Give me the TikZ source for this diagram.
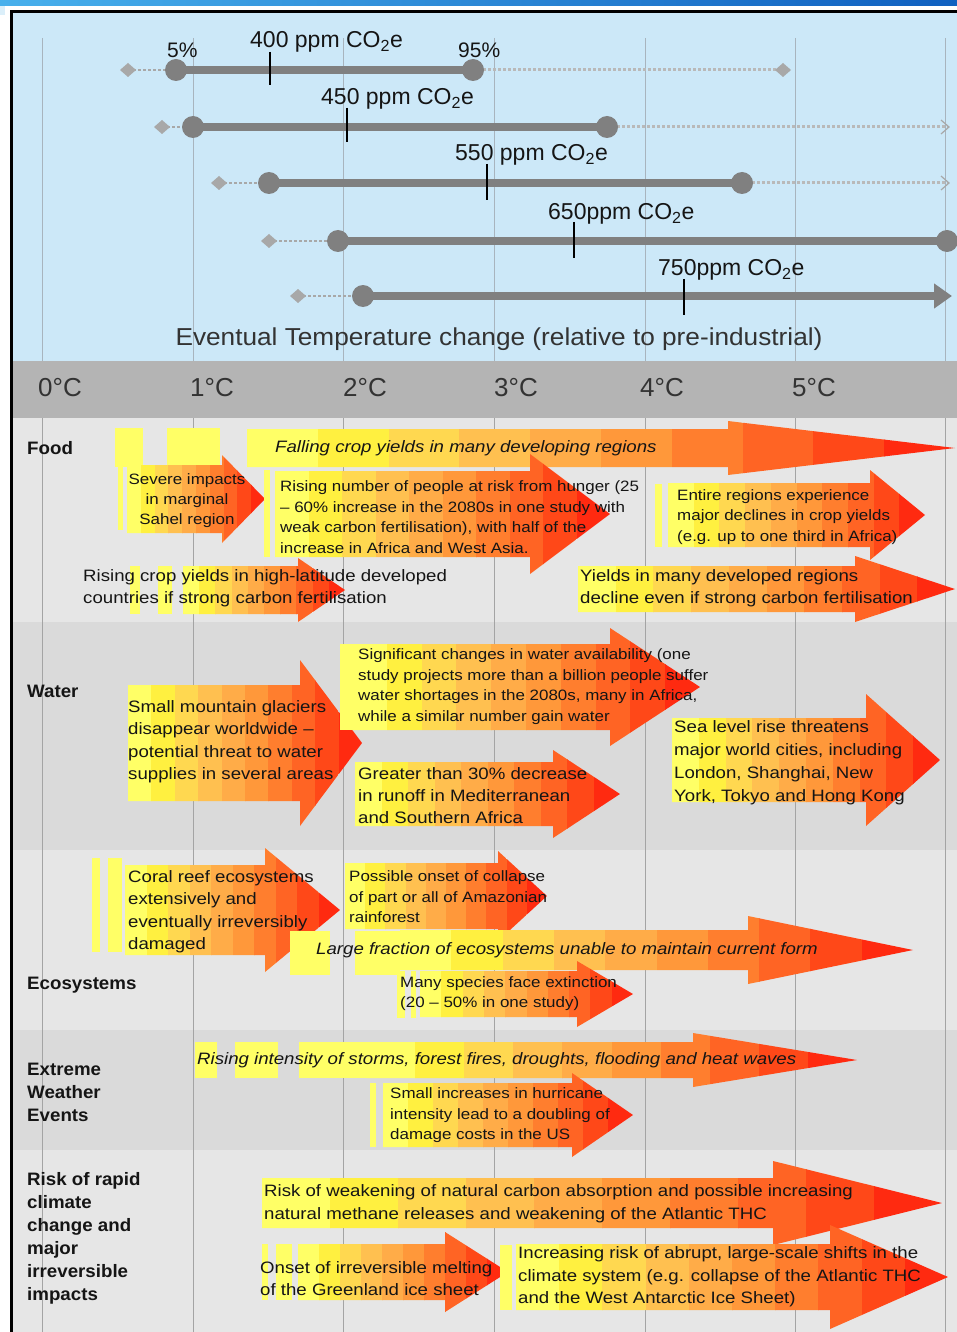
\documentclass[tikz,border=0pt]{standalone}
\usepackage{fontspec}
\setmainfont{Liberation Sans}
\newfontfamily\wf[FakeStretch=1.13]{Liberation Sans}
\newfontfamily\ef[FakeStretch=1.07]{Liberation Sans}
\newfontfamily\lf[FakeStretch=1.04]{Liberation Sans}
\usetikzlibrary{arrows.meta}
\definecolor{skyb}{HTML}{CCE8F8}
\definecolor{bandg}{HTML}{B4B4B4}
\definecolor{secl}{HTML}{E6E6E6}
\definecolor{secd}{HTML}{DADADA}
\definecolor{gridc}{HTML}{A4A4A4}
\definecolor{gridt}{HTML}{A8B4BE}
\definecolor{rowc}{HTML}{808080}
\definecolor{dimc}{HTML}{A8A8A8}
\definecolor{txt}{HTML}{151515}
\definecolor{txtg}{HTML}{333333}
\definecolor{pyel}{HTML}{FFFF66}
\definecolor{gc0}{HTML}{FFFF66}
\definecolor{gc1}{HTML}{FFF040}
\definecolor{gc2}{HTML}{FFD850}
\definecolor{gc3}{HTML}{FFC050}
\definecolor{gc4}{HTML}{FFAC48}
\definecolor{gc5}{HTML}{FF983A}
\definecolor{gc6}{HTML}{FF7E2E}
\definecolor{gc7}{HTML}{FF6424}
\definecolor{gc8}{HTML}{FF4818}
\definecolor{gc9}{HTML}{FF2A10}
\definecolor{blueA}{HTML}{48B0EC}
\definecolor{blueB}{HTML}{1060C0}
\newcommand{\garrow}[6]{%
  \begin{scope}
    \clip (#1,#4-#5) -- (#2,#4-#5) -- (#2,#4-#6) -- (#3,#4) -- (#2,#4+#6) -- (#2,#4+#5) -- (#1,#4+#5) -- cycle;
    \foreach \i in {0,...,9}{%
      \pgfmathsetmacro{\xa}{#1+\i*(#3-#1)/10}%
      \pgfmathsetmacro{\xz}{#1+(\i+1)*(#3-#1)/10+0.6}%
      \fill[fill=gc\i] (\xa,#4-#6-2) rectangle (\xz,#4+#6+2);
    }
  \end{scope}}
\newcommand{\prebar}[4]{\fill[fill=pyel] (#1,#3) rectangle (#2,#4);}
\newcommand{\diamondat}[2]{\fill[fill=dimc] (#1-8,#2) -- (#1,#2-7) -- (#1+8,#2) -- (#1,#2+7) -- cycle;}
\tikzset{
  seclabel/.style={font=\lf\bfseries\fontsize{18}{23}\selectfont, anchor=west, inner sep=0pt, align=left, text=txt},
  smalltxt/.style={font=\wf\fontsize{15}{20.5}\selectfont, anchor=west, inner sep=0pt, align=left, text=txt},
  midtxt/.style={font=\wf\fontsize{16.5}{22.5}\selectfont, anchor=west, inner sep=0pt, align=left, text=txt},
  itxt/.style={font=\wf\itshape\fontsize{16.5}{20}\selectfont, anchor=west, inner sep=0pt, text=txt},
  ppm/.style={font=\fontsize{23}{26}\selectfont, anchor=base west, inner sep=0pt, text=txt},
  pct/.style={font=\fontsize{21}{24}\selectfont, anchor=base west, inner sep=0pt, text=txt},
  deg/.style={font=\fontsize{26}{30}\selectfont, anchor=west, inner sep=0pt, text=txtg},
  rowline/.style={draw=rowc, line width=8pt},
  dashline/.style={draw=dimc, line width=2pt, dash pattern=on 3pt off 2pt},
  dotline/.style={draw=dimc!80, line width=3pt, dash pattern=on 3pt off 2pt},
  tickm/.style={draw=black, line width=1.8pt},
  dotc/.style={circle, fill=rowc, minimum size=22pt, inner sep=0pt},
}
\begin{document}
\begin{tikzpicture}[x=1pt,y=-1pt]
\useasboundingbox (0,0) rectangle (957,1332);
\fill[white] (0,0) rectangle (957,1332);
% top blue strip
\shade[left color=blueA, right color=blueB] (0,0) rectangle (957,6);
\fill[skyb!70] (0,6) rectangle (5,15);
% panels
\fill[skyb] (11,12) rectangle (957,361);
\fill[bandg] (11,361) rectangle (957,418);
\fill[secl] (11,418) rectangle (957,622);
\fill[secd] (11,622) rectangle (957,850);
\fill[secl] (11,850) rectangle (957,1030);
\fill[secd] (11,1030) rectangle (957,1150);
\fill[secl] (11,1150) rectangle (957,1332);
% grid lines
\foreach \gx in {42,193,343,494,645,795,945}{
  \draw[gridt, line width=1pt] (\gx,38) -- (\gx,361);
  \draw[gridc, line width=1pt] (\gx,418) -- (\gx,1332);
}
% frame
\draw[black, line width=3pt] (957,12) -- (11,12) -- (11,1332);

% ---------- top panel ----------
% row 1
\coordinate (d1) at (128,70); \coordinate (a1) at (176,70); \coordinate (b1) at (473,70); \coordinate (e1) at (783,70);
\draw[dashline] (d1) -- (a1);
\draw[dotline] (b1) -- (e1);
\draw[rowline] (a1) -- (b1);
\diamondat{128}{70}\diamondat{783}{70}
\node[dotc] at (a1) {}; \node[dotc] at (b1) {};
\coordinate (t1a) at (270,52); \coordinate (t1b) at (270,85); \draw[tickm] (t1a) -- (t1b);
\node[ppm] (l1) at (250,48) {400 ppm CO\textsubscript{2}e};
\node[pct] (p5) at (167,58) {5\%};
\node[pct] (p95) at (458,58) {95\%};
% row 2
\coordinate (d2) at (162,127); \coordinate (a2) at (193,127); \coordinate (b2) at (607,127); \coordinate (e2) at (948,127);
\draw[dashline] (d2) -- (a2);
\draw[dotline] (b2) -- (e2);
\draw[dimc, line width=1.2pt] (941,120) -- (949,127) -- (941,134);
\draw[rowline] (a2) -- (b2);
\diamondat{162}{127}
\node[dotc] at (a2) {}; \node[dotc] at (b2) {};
\coordinate (t2a) at (347,108); \coordinate (t2b) at (347,142); \draw[tickm] (t2a) -- (t2b);
\node[ppm] (l2) at (321,105) {450 ppm CO\textsubscript{2}e};
% row 3
\coordinate (d3) at (219,183); \coordinate (a3) at (269,183); \coordinate (b3) at (742,183); \coordinate (e3) at (948,183);
\draw[dashline] (d3) -- (a3);
\draw[dotline] (b3) -- (e3);
\draw[dimc, line width=1.2pt] (941,176) -- (949,183) -- (941,190);
\draw[rowline] (a3) -- (b3);
\diamondat{219}{183}
\node[dotc] at (a3) {}; \node[dotc] at (b3) {};
\coordinate (t3a) at (487,164); \coordinate (t3b) at (487,200); \draw[tickm] (t3a) -- (t3b);
\node[ppm] (l3) at (455,161) {550 ppm CO\textsubscript{2}e};
% row 4
\coordinate (d4) at (269,241); \coordinate (a4) at (338,241); \coordinate (b4) at (947,241);
\draw[dashline] (d4) -- (a4);
\draw[rowline] (a4) -- (b4);
\diamondat{269}{241}
\node[dotc] at (a4) {}; \node[dotc] at (b4) {};
\coordinate (t4a) at (574,222); \coordinate (t4b) at (574,258); \draw[tickm] (t4a) -- (t4b);
\node[ppm] (l4) at (548,220) {650ppm CO\textsubscript{2}e};
% row 5
\coordinate (d5) at (298,296); \coordinate (a5) at (363,296); \coordinate (b5) at (952,296);
\draw[dashline] (d5) -- (a5);
\draw[rowline, -{Triangle[width=24pt,length=18pt]}] (a5) -- (b5);
\diamondat{298}{296}
\node[dotc] at (a5) {};
\coordinate (t5a) at (684,279); \coordinate (t5b) at (684,315); \draw[tickm] (t5a) -- (t5b);
\node[ppm] (l5) at (658,276) {750ppm CO\textsubscript{2}e};
\node[font=\ef\fontsize{24.5}{28}\selectfont, text=txtg, inner sep=0pt] (etc) at (499,339) {Eventual Temperature change (relative to pre-industrial)};
% degree labels
\node[deg] (c0) at (38,388) {0°C};
\node[deg] (c1) at (190,388) {1°C};
\node[deg] (c2) at (343,388) {2°C};
\node[deg] (c3) at (494,388) {3°C};
\node[deg] (c4) at (640,388) {4°C};
\node[deg] (c5) at (792,388) {5°C};

% ---------- FOOD ----------
\prebar{115}{143}{428}{467}\prebar{167}{220}{428}{467}
\garrow{247}{728}{955}{448}{19}{27}
\prebar{118}{123}{463}{530}
\garrow{127}{222}{265}{499}{34}{44}
\prebar{264}{270}{470}{557}
\garrow{275}{530}{610}{514}{43}{60}
\prebar{655}{662}{484}{547}
\garrow{668}{870}{925}{515}{32}{45}
\prebar{130}{140}{566}{614}\prebar{158}{172}{566}{614}
\garrow{183}{298}{345}{590}{24}{32}
\garrow{578}{855}{955}{589}{23}{33}
\node[seclabel] (food) at (27,448) {Food};
\node[itxt] (tA) at (275,448) {Falling crop yields in many developing regions};
\node[font=\wf\fontsize{15}{20}\selectfont, align=center, inner sep=0pt, text=txt] (tB) at (187,501) {Severe impacts\\in marginal\\Sahel region};
\node[smalltxt] (tC) at (280,517) {Rising number of people at risk from hunger (25\\– 60\% increase in the 2080s in one study with\\weak carbon fertilisation), with half of the\\increase in Africa and West Asia.};
\node[smalltxt] (tD) at (677,517) {Entire regions experience\\major declines in crop yields\\(e.g. up to one third in Africa)};
\node[midtxt] (tE) at (83,588) {Rising crop yields in high-latitude developed\\countries if strong carbon fertilisation};
\node[midtxt] (tF) at (580,588) {Yields in many developed regions\\decline even if strong carbon fertilisation};

% ---------- WATER ----------
\garrow{128}{300}{362}{743}{58}{83}
\prebar{340}{352}{644}{730}
\garrow{352}{610}{700}{687}{43}{59}
\garrow{355}{553}{620}{794}{32}{44}
\garrow{672}{866}{940}{760}{42}{66}
\node[seclabel] (water) at (27,691) {Water};
\node[midtxt] (tG) at (128,741.5) {Small mountain glaciers\\disappear worldwide –\\potential threat to water\\supplies in several areas};
\node[smalltxt] (tH) at (358,686.5) {Significant changes in water availability (one\\study projects more than a billion people suffer\\water shortages in the 2080s, many in Africa,\\while a similar number gain water};
\node[midtxt, font=\wf\fontsize{16.5}{22}\selectfont] (tI) at (358,796) {Greater than 30\% decrease\\in runoff in Mediterranean\\and Southern Africa};
\node[midtxt, font=\wf\fontsize{16.5}{23}\selectfont] (tJ) at (674,762.5) {Sea level rise threatens\\major world cities, including\\London, Shanghai, New\\York, Tokyo and Hong Kong};

% ---------- ECOSYSTEMS ----------
\prebar{92}{100}{858}{952}\prebar{108}{122}{858}{952}
\garrow{125}{265}{340}{910}{45}{62}
\garrow{345}{498}{547}{896}{33}{45}
\prebar{290}{330}{931}{975}\prebar{355}{400}{931}{975}
\garrow{400}{748}{913}{950}{20}{34}
\prebar{397}{405}{971}{1018}\prebar{411}{416}{971}{1018}
\garrow{420}{577}{633}{994}{23}{33}
\node[seclabel] (eco) at (27,985) {Ecosystems};
\node[midtxt] (tK) at (128,911.5) {Coral reef ecosystems\\extensively and\\eventually irreversibly\\damaged};
\node[smalltxt] (tL) at (349,897) {Possible onset of collapse\\of part or all of Amazonian\\rainforest};
\node[itxt] (tM) at (316,950) {Large fraction of ecosystems unable to maintain current form};
\node[smalltxt] (tN) at (400,993.5) {Many species face extinction\\(20 – 50\% in one study)};

% ---------- EXTREME WEATHER ----------
\prebar{195}{217}{1042}{1078}\prebar{235}{278}{1042}{1078}\prebar{299}{366}{1042}{1078}
\garrow{366}{693}{857}{1060}{18}{27}
\prebar{370}{376}{1083}{1147}
\garrow{383}{572}{633}{1115}{32}{42}
\node[seclabel] (ext) at (27,1092) {Extreme\\Weather\\Events};
\node[itxt] (tO) at (197,1060) {Rising intensity of storms, forest fires, droughts, flooding and heat waves};
\node[smalltxt] (tP) at (390,1115.5) {Small increases in hurricane\\intensity lead to a doubling of\\damage costs in the US};

% ---------- RISK ----------
\garrow{262}{773}{942}{1203}{25}{42}
\prebar{262}{268}{1244}{1300}\prebar{276}{292}{1244}{1300}
\garrow{298}{445}{508}{1272}{28}{40}
\prebar{500}{512}{1245}{1310}
\garrow{516}{830}{948}{1277}{33}{52}
\node[seclabel] (risk) at (27,1238) {Risk of rapid\\climate\\change and\\major\\irreversible\\impacts};
\node[midtxt] (tQ) at (264,1203.5) {Risk of weakening of natural carbon absorption and possible increasing\\natural methane releases and weakening of the Atlantic THC};
\node[midtxt] (tR) at (260,1278.5) {Onset of irreversible melting\\of the Greenland ice sheet};
\node[midtxt] (tS) at (518,1277) {Increasing risk of abrupt, large-scale shifts in the\\climate system (e.g. collapse of the Atlantic THC\\and the West Antarctic Ice Sheet)};
\end{tikzpicture}
\end{document}
